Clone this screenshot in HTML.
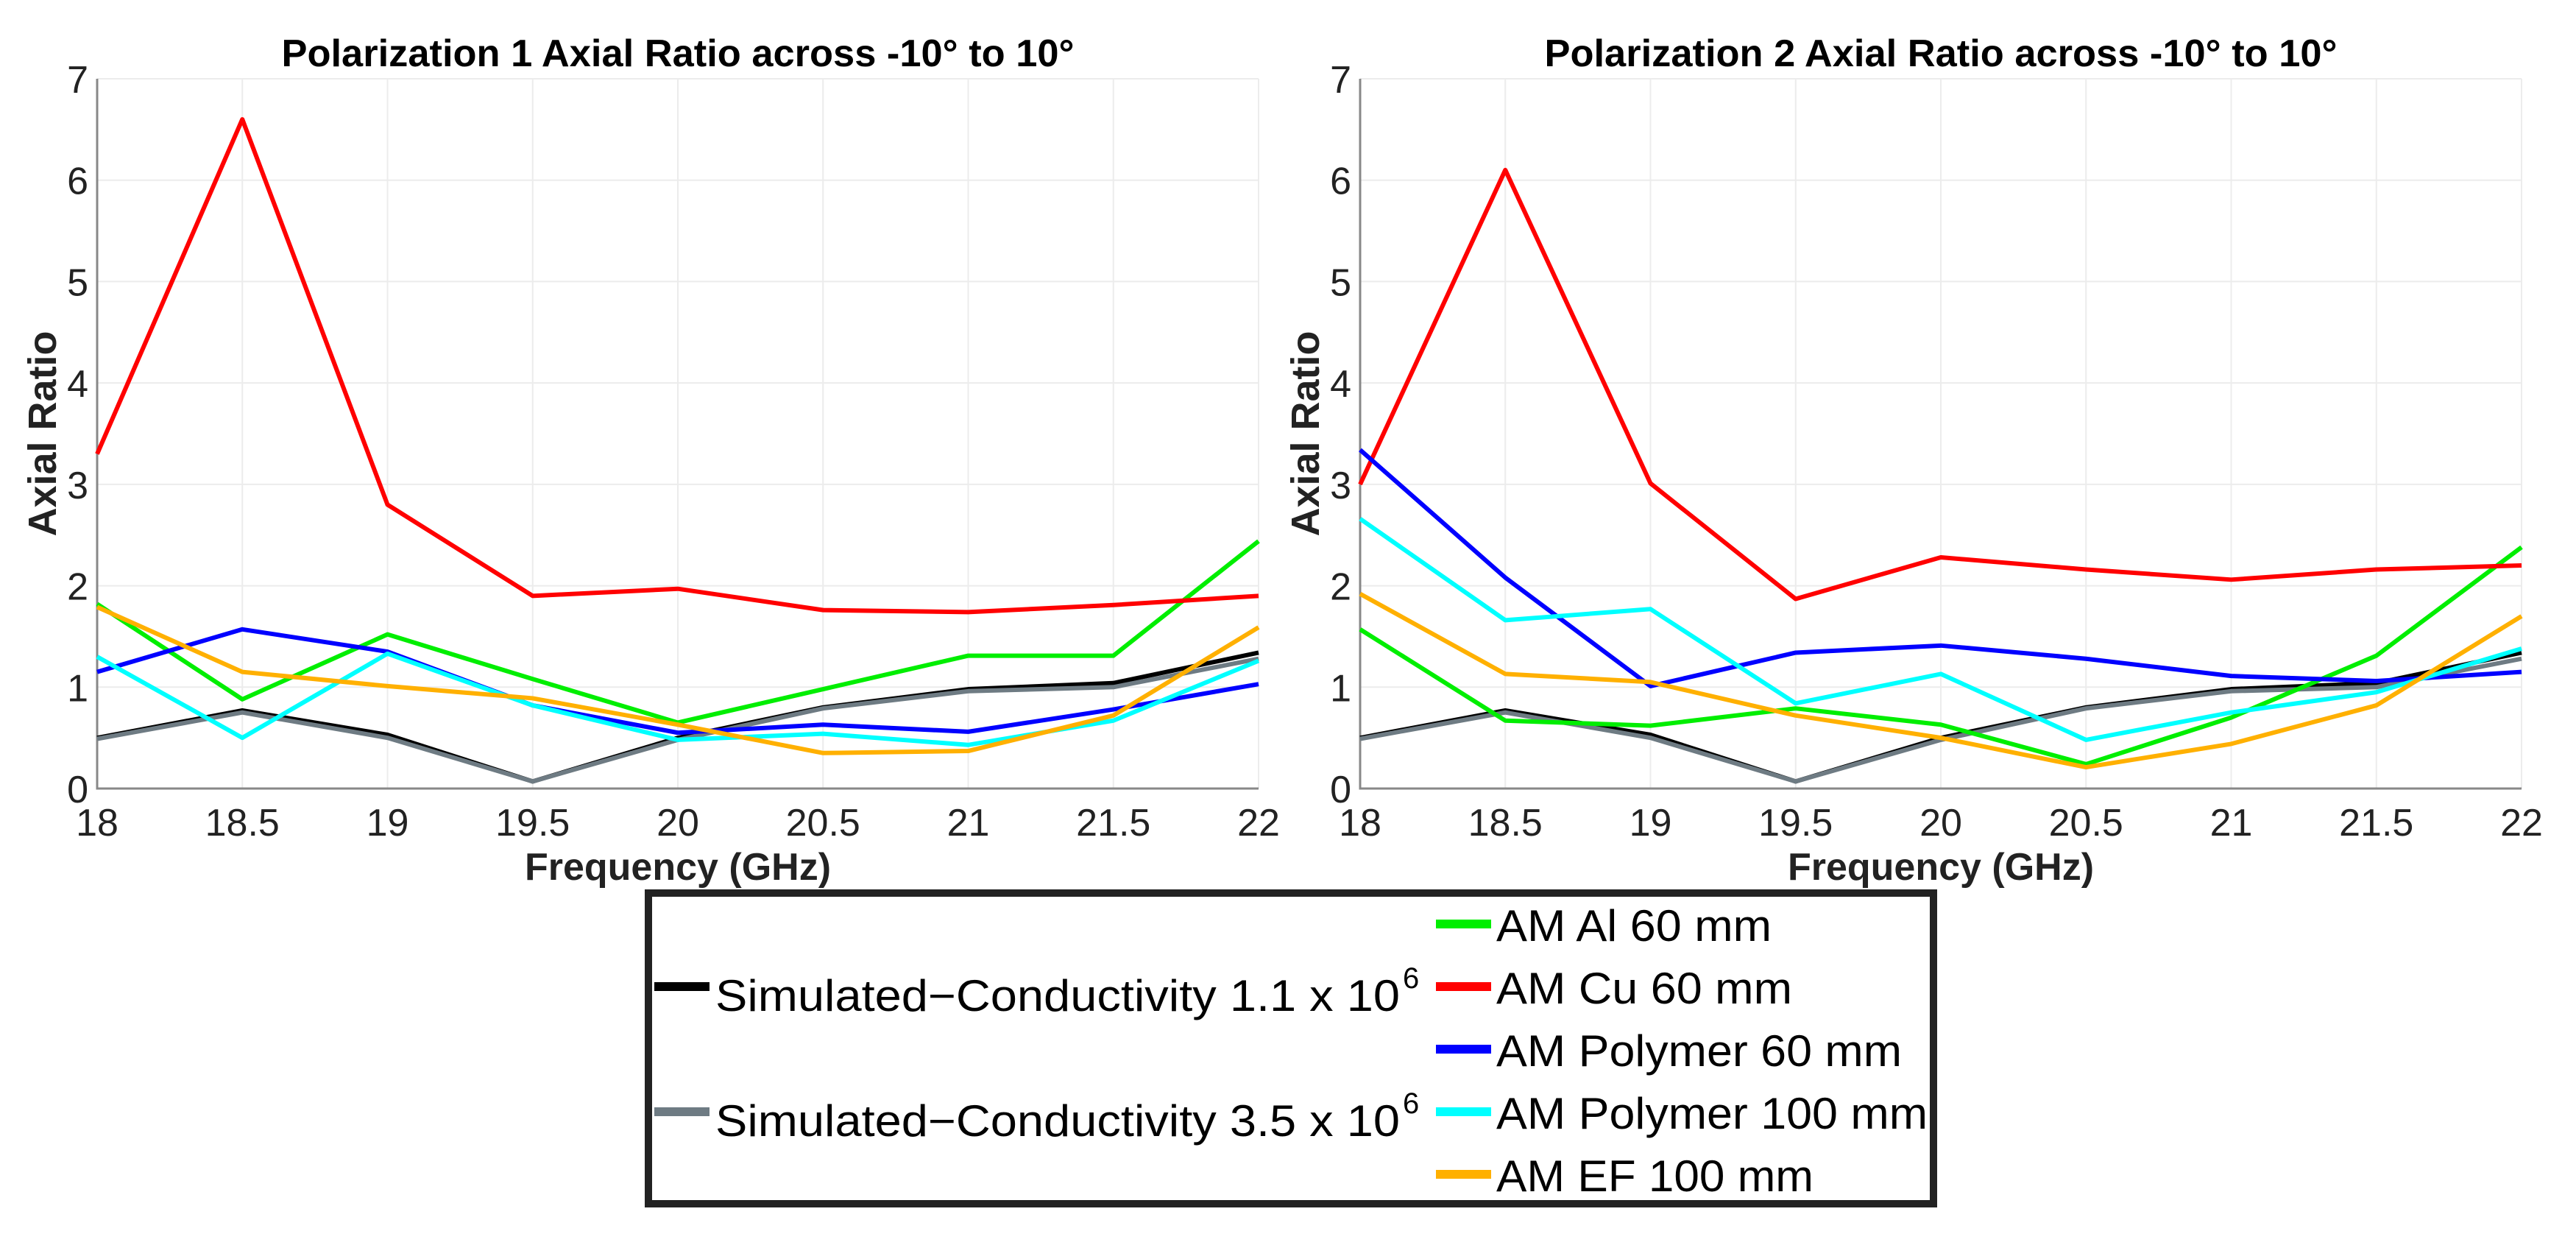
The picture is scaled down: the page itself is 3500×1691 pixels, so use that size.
<!DOCTYPE html>
<html><head><meta charset="utf-8"><style>
html,body{margin:0;padding:0;background:#fff;}
svg{display:block;font-family:"Liberation Sans",sans-serif;}
</style></head><body>
<svg id="chart" width="3500" height="1691" viewBox="0 0 3500 1691" xmlns="http://www.w3.org/2000/svg"></svg>
<script>
const categories=[18,18.5,19,19.5,20,20.5,21,21.5,22];
const xTickLabels=["18","18.5","19","19.5","20","20.5","21","21.5","22"];
const yTickLabels=["0","1","2","3","4","5","6","7"];
const seriesNames=["Simulated\u2212Conductivity 1.1 x 10^6","Simulated\u2212Conductivity 3.5 x 10^6","AM Al 60 mm","AM Cu 60 mm","AM Polymer 60 mm","AM Polymer 100 mm","AM EF 100 mm"];
const p1Black=[0.5,0.77,0.53,0.07,0.5,0.8,0.98,1.04,1.34];
const p1Gray=[0.49,0.75,0.5,0.07,0.48,0.79,0.96,1.0,1.28];
const p1Green=[1.82,0.88,1.52,1.08,0.65,0.98,1.31,1.31,2.44];
const p1Red=[3.3,6.6,2.8,1.9,1.97,1.76,1.74,1.81,1.9];
const p1Blue=[1.15,1.57,1.35,0.82,0.55,0.63,0.56,0.78,1.03];
const p1Cyan=[1.3,0.5,1.33,0.82,0.48,0.54,0.43,0.67,1.26];
const p1Orange=[1.79,1.15,1.01,0.89,0.63,0.35,0.37,0.72,1.59];
const p2Black=[0.5,0.77,0.53,0.07,0.5,0.8,0.98,1.04,1.34];
const p2Gray=[0.49,0.75,0.5,0.07,0.48,0.79,0.96,1.0,1.28];
const p2Green=[1.57,0.67,0.62,0.79,0.63,0.24,0.7,1.31,2.38];
const p2Red=[3.0,6.1,3.01,1.87,2.28,2.16,2.06,2.16,2.2];
const p2Blue=[3.34,2.08,1.01,1.34,1.41,1.28,1.11,1.06,1.15];
const p2Cyan=[2.66,1.66,1.77,0.84,1.13,0.48,0.75,0.95,1.38];
const p2Orange=[1.92,1.13,1.05,0.72,0.5,0.21,0.44,0.82,1.7];

const NS="http://www.w3.org/2000/svg";
const svg=document.getElementById('chart');
function el(tag,attrs,parent){const e=document.createElementNS(NS,tag);for(const k in attrs)e.setAttribute(k,attrs[k]);(parent||svg).appendChild(e);return e;}
const colors=["#000000","#6e7b83","#00ee00","#ff0000","#0000ff","#00ffff","#ffb000"];

function panel(name,title,left,right,data){
  const top=107,bottom=1071;
  const g=el('g',{});
  
  
  const xs=v=>left+(v-18)/4*(right-left);
  const ys=v=>bottom-v/7*(bottom-top);
  for(let i=0;i<categories.length;i++){
    const l=el('line',{x1:xs(categories[i]),x2:xs(categories[i]),y1:top,y2:bottom,stroke:'#ececec','stroke-width':2},g);
    
    
    const t=el('text',{x:xs(categories[i]),y:1135,'font-size':52,'text-anchor':'middle',fill:'#222'},g);
    
    
    t.textContent=xTickLabels[i];
  }
  for(let i=0;i<yTickLabels.length;i++){
    const v=+yTickLabels[i];
    const l=el('line',{x1:left,x2:right,y1:ys(v),y2:ys(v),stroke:'#ececec','stroke-width':2},g);
    
    
    const t=el('text',{x:left-12,y:ys(v)+19,'font-size':52,'text-anchor':'end',fill:'#222'},g);
    
    
    t.textContent=yTickLabels[i];
  }
  const ax=el('path',{d:`M${left},${top}V${bottom}H${right}`,fill:'none',stroke:'#888','stroke-width':3},g);
  
  
  for(let s=0;s<data.length;s++){
    const pts=data[s].map((v,i)=>xs(categories[i])+','+ys(v)).join(' ');
    const pl=el('polyline',{points:pts,fill:'none',stroke:colors[s],'stroke-width':6,'stroke-linejoin':'round'},g);
    
    
  }
  const tt=el('text',{x:(left+right)/2,y:90,'font-size':52,'font-weight':'bold','text-anchor':'middle',textLength:1077,lengthAdjust:'spacingAndGlyphs'},g);
  
  
  tt.textContent=title;
  const xt=el('text',{x:(left+right)/2,y:1195,'font-size':52,'font-weight':'bold','text-anchor':'middle',fill:'#222'},g);
  
  
  xt.textContent='Frequency (GHz)';
  const cx=left-56;
  const yt=el('text',{x:cx,y:589,'font-size':54,'font-weight':'bold','text-anchor':'middle',fill:'#222',transform:`rotate(-90 ${cx} 589)`},g);
  
  
  yt.textContent='Axial Ratio';
}
panel('polarization-1-chart','Polarization 1 Axial Ratio across -10° to 10°',132,1710,[p1Black,p1Gray,p1Green,p1Red,p1Blue,p1Cyan,p1Orange]);
panel('polarization-2-chart','Polarization 2 Axial Ratio across -10° to 10°',1848,3426,[p2Black,p2Gray,p2Green,p2Red,p2Blue,p2Cyan,p2Orange]);

// legend
const lg=el('g',{});


const box=el('rect',{x:881,y:1213,width:1746,height:422,fill:'#fff',stroke:'#222','stroke-width':10},lg);


const legPos=[[889,1340],[889,1510],[1951,1255],[1951,1340],[1951,1425],[1951,1510],[1951,1595]];
const legLen=[930,930,374,402,551,586,431];
for(let s=0;s<seriesNames.length;s++){
  const [lx,ly]=legPos[s];
  const e=el('g',{},lg);
  
  
  el('line',{x1:lx,x2:lx+75,y1:ly,y2:ly,stroke:colors[s],'stroke-width':12},e);
  const nm=seriesNames[s];
  if(nm.indexOf('^')>=0){
    const parts=nm.split('^');
    const t=el('text',{x:lx+83,y:ly+33,'font-size':60,fill:'#000',textLength:legLen[s],lengthAdjust:'spacingAndGlyphs'},e);
    t.textContent=parts[0];
    const sup=el('text',{x:lx+83+legLen[s]+4,y:ly+2,'font-size':40,fill:'#000'},e);
    sup.textContent=parts[1];
  } else {
    const t=el('text',{x:lx+82,y:ly+23,'font-size':60,fill:'#000',textLength:legLen[s],lengthAdjust:'spacingAndGlyphs'},e);
    t.textContent=nm;
  }
}
</script>
</body></html>
